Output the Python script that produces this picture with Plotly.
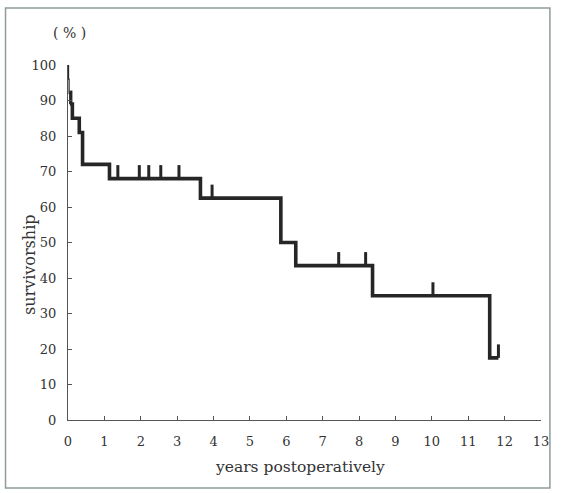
import plotly.graph_objects as go

# Kaplan-Meier style survival steps (years, %)
early_times = [0.0, 0.015, 0.03, 0.05]
early_surv = [100, 96, 92, 89]

step_times = [0.05, 0.12, 0.31, 0.40, 1.14, 3.64, 5.85, 6.26, 8.37, 11.59]
step_surv = [89, 85, 81, 72, 68, 62.5, 50, 43.5, 35, 17.5]
end_time = 11.83

censor_times = [0.08, 1.37, 1.96, 2.22, 2.55, 3.05, 3.96, 7.44, 8.18, 10.03, 11.83]

x_ticks = list(range(0, 14))
y_ticks = list(range(0, 101, 10))

INK = "#262626"
FONT = "DejaVu Serif"


def surv_at(t):
    v = early_surv[0]
    for tt, s in zip(early_times, early_surv):
        if t >= tt:
            v = s
    for tt, s in zip(step_times, step_surv):
        if t >= tt:
            v = s
    return v


fig = go.Figure()

# thin very-early drop
fig.add_trace(go.Scatter(
    x=early_times, y=early_surv, mode="lines", line=dict(color=INK, width=1.2, shape="hv"),
    hoverinfo="skip", showlegend=False))

# main thick step curve
fig.add_trace(go.Scatter(
    x=step_times + [end_time], y=step_surv + [step_surv[-1]], mode="lines",
    line=dict(color=INK, width=3.6, shape="hv"), hoverinfo="skip", showlegend=False))

# censor marks
cx, cy = [], []
for t in censor_times:
    s = surv_at(t)
    cx += [t, t, None]
    cy += [s, s + 3.8, None]
fig.add_trace(go.Scatter(x=cx, y=cy, mode="lines", line=dict(color=INK, width=3),
                         hoverinfo="skip", showlegend=False))

axis_common = dict(
    showgrid=False, zeroline=False, showline=True, linecolor="#555555", linewidth=1,
    ticks="inside", ticklen=4, tickcolor="#555555", tickwidth=1,
    tickfont=dict(family=FONT, size=13, color="#333333"),
)

fig.update_xaxes(range=[0, 13], tickvals=x_ticks, ticktext=[str(v) for v in x_ticks],
                 ticklabelstandoff=9, **axis_common)
fig.update_yaxes(range=[0, 100], tickvals=y_ticks, ticktext=[str(v) for v in y_ticks],
                 ticklabelstandoff=8, **axis_common)

fig.update_layout(
    width=561, height=493,
    margin=dict(l=68, r=16, t=65, b=73),
    paper_bgcolor="white", plot_bgcolor="white",
    annotations=[
        dict(text="( % )", x=0.004, y=1.09, xref="paper", yref="paper",
             showarrow=False, xanchor="center", yanchor="middle",
             font=dict(family=FONT, size=14, color="#333333")),
        dict(text="survivorship", x=-0.08, y=0.437, xref="paper", yref="paper",
             showarrow=False, textangle=-90, xanchor="center", yanchor="middle",
             font=dict(family=FONT, size=16, color="#333333")),
        dict(text="years postoperatively", x=0.49, y=-0.133, xref="paper", yref="paper",
             showarrow=False, xanchor="center", yanchor="middle",
             font=dict(family=FONT, size=15.5, color="#333333")),
    ],
    shapes=[
        dict(type="rect", xref="paper", yref="paper",
             x0=(5 - 68) / 477, x1=(554 - 68) / 477,
             y0=(420 - 488) / 355, y1=(420 - 8) / 355,
             line=dict(color="#8f9c9c", width=1.5), layer="below"),
    ],
)

fig.write_html("out.html", config={"displayModeBar": False},
               post_script="document.body.style.margin='0';")
